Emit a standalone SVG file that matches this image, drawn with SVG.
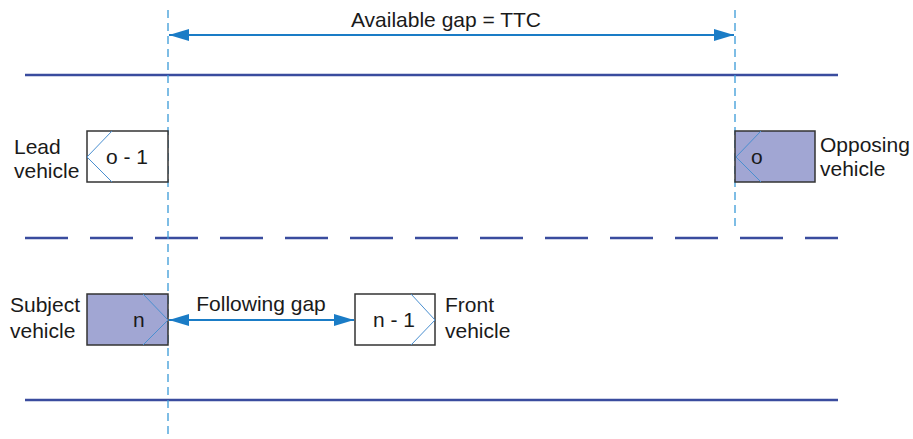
<svg xmlns="http://www.w3.org/2000/svg" width="913" height="439" viewBox="0 0 913 439">
<defs>
<style>
text{font-family:"Liberation Sans",Arial,sans-serif;font-size:21px;fill:#1a1a1a}
.road{stroke:#3a4c9e;stroke-width:2.5;fill:none}
.guide{stroke:#3a9ad8;stroke-width:1.3;stroke-dasharray:8,5;fill:none}
.arr{stroke:#1a7cc6;stroke-width:2;fill:none}
.box{stroke:#333;stroke-width:1.5}
.chev{stroke:#4a8fd0;stroke-width:1;fill:none}
</style>
<marker id="ah" viewBox="0 0 20 12" refX="20" refY="6" markerWidth="20" markerHeight="12" markerUnits="userSpaceOnUse" orient="auto-start-reverse">
<path d="M0,0 L20,6 L0,12 Z" fill="#1a7cc6"/>
</marker>
</defs>
<g id="roads">
<line class="road" x1="25" y1="75" x2="838" y2="75"/>
<line class="road" x1="25" y1="238" x2="838" y2="238" stroke-dasharray="43,22"/>
<line class="road" x1="25" y1="400" x2="838" y2="400"/>
</g>
<g id="connectors">
<line class="guide" x1="168" y1="10" x2="168" y2="439"/>
<line class="guide" x1="735" y1="10" x2="735" y2="230"/>
<line class="arr" x1="169" y1="35" x2="734" y2="35" marker-start="url(#ah)" marker-end="url(#ah)"/>
<line class="arr" x1="169" y1="320" x2="354" y2="320" marker-start="url(#ah)" marker-end="url(#ah)"/>
</g>
<text x="446" y="27" text-anchor="middle">Available gap = TTC</text>
<text x="261" y="311" text-anchor="middle">Following gap</text>
<g id="lead">
<rect class="box" x="87" y="131" width="81" height="51" fill="#fff"/>
<polyline class="chev" points="112,131 87,157 112,182"/>
<text x="127" y="164" text-anchor="middle">o - 1</text>
<text x="14" y="154">Lead</text>
<text x="14" y="178">vehicle</text>
</g>
<g id="opposing">
<rect class="box" x="735" y="131" width="80" height="51" fill="#a1a6d3"/>
<polyline class="chev" points="761,131 736,157 761,182"/>
<text x="751" y="164">o</text>
<text x="820" y="152">Opposing</text>
<text x="820" y="176">vehicle</text>
</g>
<g id="subject">
<rect class="box" x="87" y="294" width="81" height="51" fill="#a1a6d3"/>
<polyline class="chev" points="143,294 168,320 143,345"/>
<text x="133" y="327">n</text>
<text x="10" y="312">Subject</text>
<text x="10" y="338">vehicle</text>
</g>
<g id="front">
<rect class="box" x="355" y="294" width="80" height="51" fill="#fff"/>
<polyline class="chev" points="411,294 435,320 411,345"/>
<text x="394" y="327" text-anchor="middle">n - 1</text>
<text x="445" y="312">Front</text>
<text x="445" y="338">vehicle</text>
</g>
</svg>
